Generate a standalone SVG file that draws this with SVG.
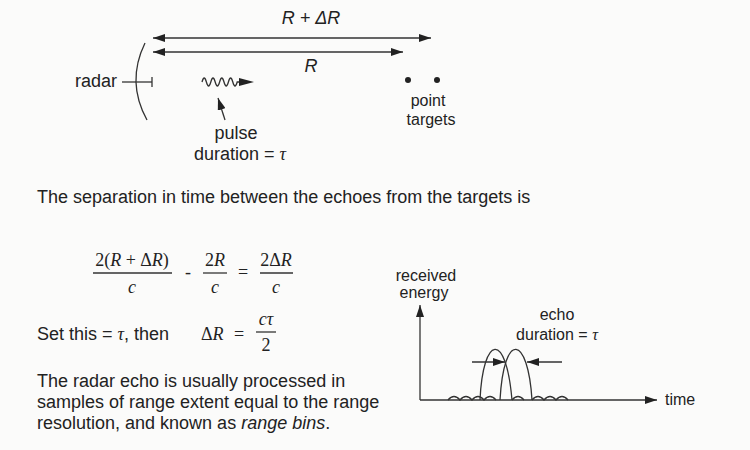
<svg xmlns="http://www.w3.org/2000/svg" width="750" height="450" viewBox="0 0 750 450">
<defs>
<marker id="ah" viewBox="0 0 12 8" refX="12" refY="4" markerWidth="12" markerHeight="8" markerUnits="userSpaceOnUse" orient="auto-start-reverse"><path d="M0,0 L12,4 L0,8 Z" fill="#222"/></marker>
</defs>
<style>
.t{font-family:"Liberation Sans",Arial,sans-serif;font-size:16px;fill:#222}
.l{font-family:"Liberation Sans",Arial,sans-serif;font-size:18px;fill:#222}
.b{font-family:"Liberation Sans",Arial,sans-serif;font-size:18px;fill:#222}
.m{font-family:"Liberation Serif","Times New Roman",serif;font-size:18px;fill:#222}
.ln{stroke:#333;stroke-width:1.3;fill:none}
</style>
<rect width="750" height="450" fill="#fbfbfa"/>
<g id="range-arrows">
<line class="ln" x1="153" y1="38" x2="431" y2="38" marker-start="url(#ah)" marker-end="url(#ah)"/>
<line class="ln" x1="153" y1="52" x2="403" y2="52" marker-start="url(#ah)" marker-end="url(#ah)"/>
<text class="l" x="311" y="24" text-anchor="middle" font-style="italic">R + ΔR</text>
<text class="l" x="311" y="72" text-anchor="middle" font-style="italic">R</text>
</g>
<g id="radar">
<path class="ln" d="M145,43 Q126,82 147,120"/>
<line class="ln" x1="122" y1="82" x2="152" y2="82"/>
<line class="ln" x1="152" y1="77" x2="152" y2="87"/>
<text class="l" x="75" y="87">radar</text>
</g>
<g id="pulse">
<path class="ln" d="M202,82 q2.2,-8 4.4,0 t4.4,0 t4.4,0 t4.4,0 t4.4,0 t4.4,0 t4.4,0 t4.4,0 L241,82" />
<path d="M239,78 L254,82 L239,86 Z" fill="#222"/>
<line class="ln" x1="225" y1="120" x2="218" y2="98" marker-end="url(#ah)"/>
<text class="l" x="236" y="139" text-anchor="middle">pulse</text>
<text class="l" x="240" y="160" text-anchor="middle">duration = <tspan font-family="Liberation Serif,serif" font-style="italic">τ</tspan></text>
</g>
<g id="targets">
<circle cx="408" cy="80" r="3" fill="#222"/>
<circle cx="437" cy="80" r="3" fill="#222"/>
<text class="t" x="428" y="106" text-anchor="middle">point</text>
<text class="t" x="431" y="125" text-anchor="middle">targets</text>
</g>
<text class="b" x="37" y="203">The separation in time between the echoes from the targets is</text>
<g id="equation">
<text class="m" x="132" y="266" text-anchor="middle">2(<tspan font-style="italic">R</tspan> + Δ<tspan font-style="italic">R</tspan>)</text>
<line class="ln" x1="93" y1="273" x2="172" y2="273" stroke-width="1"/>
<text class="m" x="132" y="293" text-anchor="middle" font-style="italic">c</text>
<text class="m" x="188" y="278" text-anchor="middle">-</text>
<text class="m" x="215" y="266" text-anchor="middle">2<tspan font-style="italic">R</tspan></text>
<line class="ln" x1="203" y1="273" x2="227" y2="273" stroke-width="1"/>
<text class="m" x="215" y="293" text-anchor="middle" font-style="italic">c</text>
<text class="m" x="243" y="278" text-anchor="middle">=</text>
<text class="m" x="276" y="266" text-anchor="middle">2Δ<tspan font-style="italic">R</tspan></text>
<line class="ln" x1="260" y1="273" x2="293" y2="273" stroke-width="1"/>
<text class="m" x="276" y="293" text-anchor="middle" font-style="italic">c</text>
</g>
<g id="set-this">
<text class="b" x="37" y="340">Set this = <tspan font-family="Liberation Serif,serif" font-style="italic">τ</tspan>, then</text>
<text class="m" x="201" y="340">Δ<tspan font-style="italic">R</tspan></text>
<text class="m" x="239" y="340" text-anchor="middle">=</text>
<text class="m" x="266" y="325" text-anchor="middle" font-style="italic">cτ</text>
<line class="ln" x1="256" y1="332" x2="276" y2="332" stroke-width="1"/>
<text class="m" x="266" y="351" text-anchor="middle">2</text>
</g>
<g id="note">
<text class="b" x="37" y="387">The radar echo is usually processed in</text>
<text class="b" x="37" y="408">samples of range extent equal to the range</text>
<text class="b" x="37" y="429">resolution, and known as <tspan font-style="italic">range bins</tspan>.</text>
</g>
<g id="graph">
<line class="ln" x1="420" y1="400" x2="420" y2="305" marker-end="url(#ah)"/>
<line class="ln" x1="420" y1="400" x2="657" y2="400" marker-end="url(#ah)"/>
<text class="t" x="426" y="281" text-anchor="middle">received</text>
<text class="t" x="424" y="298" text-anchor="middle">energy</text>
<text class="t" x="665" y="405">time</text>
<path class="ln" d="M448,400 q6,-7 12,0 q6,-7 12,0 q6,-7 12,0 q6,-7 12,0 M512,400 q6,-7 12,0 M532,400 q6,-7 12,0 q6,-7 12,0 q6,-7 12,0"/>
<path class="ln" d="M480,400 C483,335 506,330 512,400"/>
<path class="ln" d="M500,400 C504,330 528,335 532,400"/>
<line class="ln" x1="472" y1="362" x2="505" y2="362" marker-end="url(#ah)"/>
<line class="ln" x1="562" y1="362" x2="527" y2="362" marker-end="url(#ah)"/>
<text class="t" x="557" y="320" text-anchor="middle">echo</text>
<text class="t" x="557" y="340" text-anchor="middle" font-size="17">duration = <tspan font-family="Liberation Serif,serif" font-style="italic">τ</tspan></text>
</g>
</svg>
